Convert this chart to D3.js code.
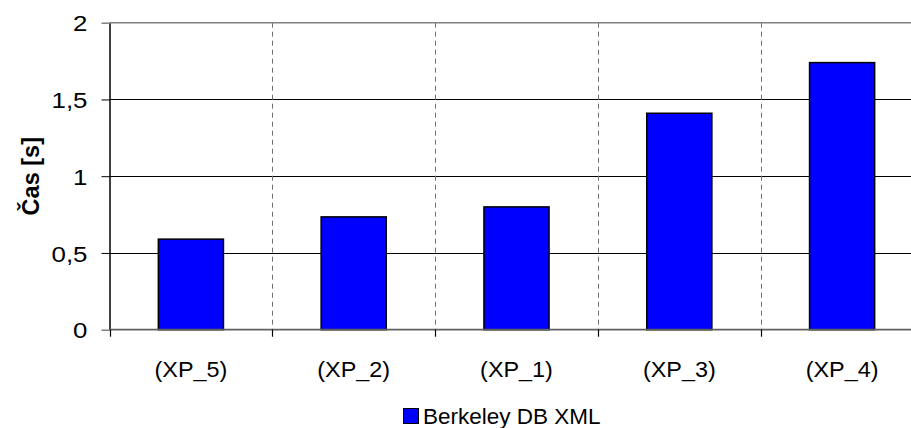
<!DOCTYPE html>
<html>
<head>
<meta charset="utf-8">
<script src="https://cdn.jsdelivr.net/npm/d3@7"></script>
<style>
  html, body { margin: 0; padding: 0; background: #fff; }
  svg { display: block; font-family: "Liberation Sans", Arial, sans-serif; }
</style>
</head>
<body>
<svg id="chart" width="911" height="428"></svg>
<script>
// Query labels and measured times (seconds)
const categories = ["(XP_5)", "(XP_2)", "(XP_1)", "(XP_3)", "(XP_4)"];
const times = [0.59, 0.735, 0.80, 1.41, 1.74];
const yTicks = [0, 0.5, 1, 1.5, 2];
const yTickLabels = ["0", "0,5", "1", "1,5", "2"];
const seriesName = "Berkeley DB XML";
const yTitle = "Čas [s]";

const svg = d3.select("#chart");
const W = 911, H = 428;
const plotLeft = 109.5, plotRight = 923.5, plotTop = 22.7, plotBottom = 329.7;

const x = d3.scaleBand().domain(categories).range([plotLeft, plotRight]).paddingInner(0).paddingOuter(0);
const y = d3.scaleLinear().domain([0, 2]).range([plotBottom, plotTop]);

const barW = x.bandwidth() * 0.4;
const crisp = v => Math.round(v) + 0.5;

// horizontal gridlines
svg.append("g").selectAll("line")
  .data(yTicks.filter(v => v > 0 && v < 2))
  .join("line")
  .attr("x1", plotLeft).attr("x2", W)
  .attr("y1", d => crisp(y(d))).attr("y2", d => crisp(y(d)))
  .attr("stroke", "#000").attr("stroke-width", 1);

// vertical dashed separators between categories
svg.append("g").selectAll("line")
  .data(categories.slice(1))
  .join("line")
  .attr("x1", d => crisp(x(d))).attr("x2", d => crisp(x(d)))
  .attr("y1", plotTop).attr("y2", plotBottom)
  .attr("stroke", "#707070").attr("stroke-width", 1)
  .attr("stroke-dasharray", "5,4");

// top border of plot area
svg.append("line")
  .attr("x1", plotLeft).attr("x2", W)
  .attr("y1", y(2)).attr("y2", y(2))
  .attr("stroke", "#808080").attr("stroke-width", 1.5);

// bars
svg.append("g").selectAll("rect")
  .data(categories.map((c, i) => ({ c, v: times[i] })))
  .join("rect")
  .attr("x", d => x(d.c) + (x.bandwidth() - barW) / 2)
  .attr("width", barW)
  .attr("y", d => y(d.v))
  .attr("height", d => y(0) - y(d.v))
  .attr("fill", "#0000FF")
  .attr("stroke", "#000").attr("stroke-width", 1.5);

// y axis
const yAxis = d3.axisLeft(y).tickValues(yTicks)
  .tickFormat((d, i) => yTickLabels[i]).tickSize(8).tickSizeOuter(0).tickPadding(13);
const gy = svg.append("g").attr("transform", `translate(${plotLeft},0)`).call(yAxis);
gy.select(".domain").attr("stroke", "#000").attr("stroke-width", 1.5);
gy.selectAll(".tick line").attr("stroke", d => (d === 0 || d === 2) ? "#808080" : "#000")
  .attr("stroke-width", d => (d === 0 || d === 2) ? 1.5 : 1);
gy.selectAll(".tick text")
  .attr("x", 0)
  .attr("transform", "translate(-22,0) scale(1.15,1)")
  .attr("font-size", 22.5).attr("fill", "#000")
  .attr("font-family", "'Liberation Sans', Arial, sans-serif").attr("dy", "0.36em");

// x axis line (zero)
svg.append("line")
  .attr("x1", plotLeft).attr("x2", W)
  .attr("y1", y(0)).attr("y2", y(0))
  .attr("stroke", "#606060").attr("stroke-width", 1.8);

// x axis ticks at category boundaries
svg.append("g").selectAll("line")
  .data(categories.map(c => x(c)))
  .join("line")
  .attr("x1", d => crisp(d)).attr("x2", d => crisp(d))
  .attr("y1", y(0)).attr("y2", y(0) + 7)
  .attr("stroke", "#000").attr("stroke-width", 1.2);

// x category labels
svg.append("g").selectAll("text")
  .data(categories)
  .join("text")
  .attr("transform", d => `translate(${x(d) + x.bandwidth() / 2},376.7) scale(1.04,1)`)
  .attr("text-anchor", "middle")
  .attr("font-size", 22.5)
  .text(d => d);

// y axis title
svg.append("text")
  .attr("transform", `translate(38.5,${(plotTop + plotBottom) / 2}) rotate(-90)`)
  .attr("text-anchor", "middle")
  .attr("font-size", 23.5).attr("font-weight", "bold")
  .text(yTitle);

// legend
const lg = svg.append("g");
lg.append("rect").attr("x", 403.5).attr("y", 408.5).attr("width", 15).attr("height", 15)
  .attr("fill", "#0000FF").attr("stroke", "#000").attr("stroke-width", 1);
lg.append("text").attr("x", 423).attr("y", 423.5).attr("font-size", 22.5).text(seriesName);
</script>
</body>
</html>
